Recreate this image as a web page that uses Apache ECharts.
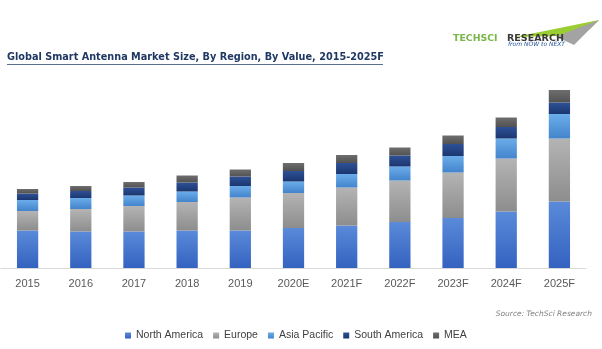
<!DOCTYPE html>
<html>
<head>
<meta charset="utf-8">
<script src="https://cdn.jsdelivr.net/npm/echarts@6/dist/echarts.min.js"></script>
<style>html,body{margin:0;padding:0;background:#fff;}#c{width:602px;height:349px;}</style>
</head>
<body>
<div id="c"></div>
<script>
const categories = ['2015','2016','2017','2018','2019','2020E','2021F','2022F','2023F','2024F','2025F'];
const northAmerica = [37.5, 36.5, 36.5, 37.5, 37.5, 40, 42.5, 46, 50, 56.5, 66.5];
const europe       = [19.5, 22.5, 25.5, 28.5, 33, 35, 38, 41.5, 45.5, 53, 63];
const asiaPacific  = [11, 11, 10.5, 10.5, 11.5, 11.5, 13.5, 14, 16.5, 20, 24.5];
const southAmerica = [6.5, 7, 8, 9, 9.5, 10.5, 11, 11, 12, 11.5, 11.5];
const mea          = [4.5, 5, 5.5, 7, 7, 8, 8, 8, 8.5, 9.5, 12.5];
const seriesNames = ['North America','Europe','Asia Pacific','South America','MEA'];

function grad(top, bottom){
  return new echarts.graphic.LinearGradient(0,0,0,1,[{offset:0,color:top},{offset:1,color:bottom}]);
}
const fills = [
  grad('#5a8ad9','#3462c0'),
  grad('#b4b4b4','#8d8d8d'),
  grad('#6badea','#4384cc'),
  grad('#2d5196','#1b3670'),
  grad('#6e6e6e','#525252')
];
const dataSets = [northAmerica, europe, asiaPacific, southAmerica, mea];

const chart = echarts.init(document.getElementById('c'), null, {renderer:'canvas'});
chart.setOption({
  animation:false,
  backgroundColor:'#ffffff',
  grid:{left:1, right:16, top:68, bottom:81, containLabel:false},
  xAxis:{
    type:'category', data:categories,
    axisLine:{lineStyle:{color:'#d9d9d9', width:1}},
    axisTick:{show:false},
    axisLabel:{color:'#595959', fontSize:11, fontFamily:'Liberation Sans', margin:10}
  },
  yAxis:{type:'value', min:0, max:200, show:false, splitLine:{show:false}},
  legend:{
    left:120, top:325, icon:'rect', itemWidth:6, itemHeight:6, itemGap:10,
    textStyle:{color:'#404040', fontSize:10.5, fontFamily:'Liberation Sans'},
    data:seriesNames
  },
  series: seriesNames.map((n,i)=>({
    name:n, type:'bar', stack:'total', barWidth:'40%',
    itemStyle:{color:fills[i]},
    data:dataSets[i]
  })),
  graphic:[
    {type:'text', left:7, top:52, style:{text:'Global Smart Antenna Market Size, By Region, By Value, 2015-2025F', fill:'#1f3864', font:'bold 10.8px "DejaVu Sans Condensed"'}},
    {type:'line', shape:{x1:7,y1:64.5,x2:383,y2:64.5}, style:{stroke:'#5a6f8f', lineWidth:1.2}},
    {type:'polygon', shape:{points:[[515,37],[599,20],[590,29],[556,36]]}, style:{fill:'#9acd32'}},
    {type:'polygon', shape:{points:[[556,36.5],[599,20],[574,45]]}, style:{fill:'#a3a3a3'}},
    {type:'text', left:453, top:34, scaleX:1.1, style:{text:'TECHSCI', fill:'#7ab648', font:'bold 8.5px "DejaVu Sans"'}},
    {type:'text', left:507, top:34, scaleX:1.12, style:{text:'RESEARCH', fill:'#3a3a3a', font:'bold 8.5px "DejaVu Sans"'}},
    {type:'text', left:508, top:41.5, style:{text:'from NOW to NEXT', fill:'#1f4e9a', font:'italic 6px "DejaVu Sans"'}},
    {type:'text', right:10, top:310, style:{text:'Source: TechSci Research', fill:'#7f7f7f', font:'italic 7.5px "DejaVu Sans"'}}
  ]
});
</script>
</body>
</html>
